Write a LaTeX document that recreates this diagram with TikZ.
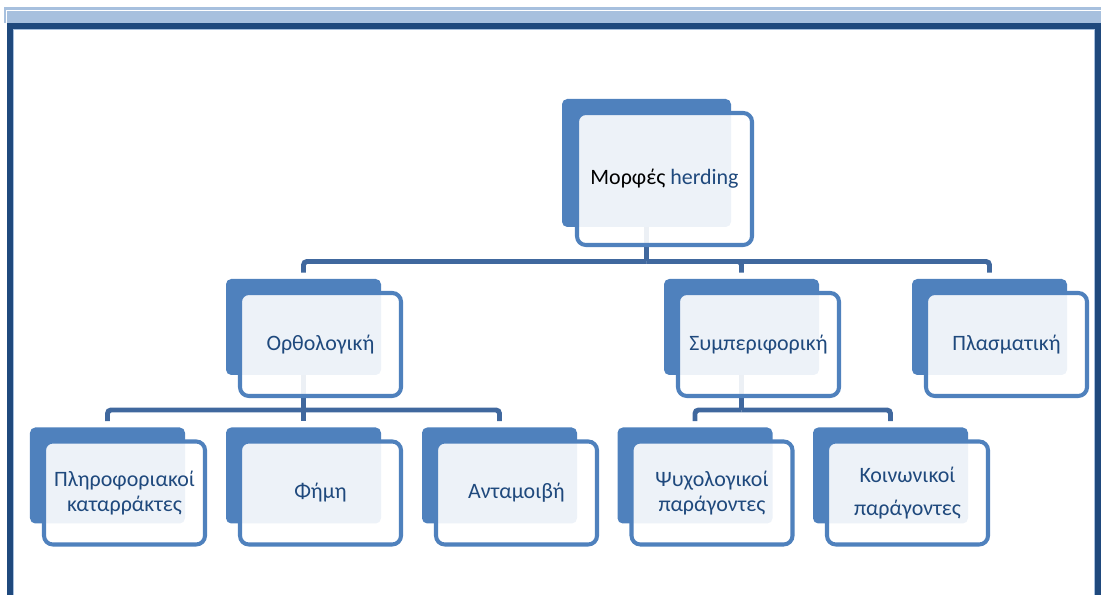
\documentclass[tikz,border=0pt]{standalone}
\usepackage{fontspec}
\setmainfont{Carlito}
\usetikzlibrary{positioning}

\begin{document}
\begin{tikzpicture}[
    font=\fontsize{12.5}{14.5}\selectfont,
    % --- Styles ---
    back/.style={fill=boxBlue, rounded corners=3pt, minimum width=3.1cm, minimum height=1.92cm, inner sep=0pt},
    front/.style={draw=boxBlue, line width=2.3pt, fill=white, fill opacity=0.9, text opacity=1, rounded corners=5pt, minimum width=3.22cm, minimum height=2.06cm, align=center, text=txtBlue, inner sep=2pt, xshift=0.34cm, yshift=-0.35cm},
    conn/.style={draw=lineBlue, line width=2.8pt, rounded corners=2pt},
    gap/.style={shorten >=0.12cm}
]

    % --- Colors ---
    \definecolor{boxBlue}{RGB}{79,129,189}   % box fill / border
    \definecolor{lineBlue}{RGB}{64,104,158}  % connectors
    \definecolor{txtBlue}{RGB}{31,73,125}    % labels
    \definecolor{frameDark}{RGB}{31,73,125}  % page border
    \definecolor{frameLight}{RGB}{167,192,222}

    \useasboundingbox (0,0) rectangle (22.02,11.9);

    % ==========================
    % 1. PAGE FRAME
    % ==========================
    \fill[frameLight] (0.08,11.44) rectangle (22.02,11.76);
    \draw[white, line width=0.5pt] (0.12,11.44) -- (0.12,11.7) -- (22.02,11.7);
    \fill[frameDark] (0.14,11.32) rectangle (22.02,11.44);
    \fill[frameDark] (0.14,0) rectangle (0.26,11.44);
    \fill[frameDark] (21.9,0) rectangle (22.02,11.44);
    \draw[frameLight, line width=0.4pt] (0.27,0) -- (0.27,11.31) -- (21.89,11.31) -- (21.89,0);

    % ==========================
    % 2. BACK PLATES
    % ==========================
    \node[back, minimum width=3.38cm, minimum height=2.56cm] (root_b) at (12.93, 8.64) {};

    \node[back] (orth_b)  at (6.07, 5.36) {};
    \node[back] (symp_b)  at (14.83, 5.36) {};
    \node[back] (plasm_b) at (19.79, 5.36) {};

    \node[back] (pliro_b) at (2.15, 2.39) {};
    \node[back] (fimi_b)  at (6.07, 2.39) {};
    \node[back] (antam_b) at (9.99, 2.39) {};
    \node[back] (psych_b) at (13.9, 2.39) {};
    \node[back] (koin_b)  at (17.81, 2.39) {};

    % ==========================
    % 3. CONNECTORS
    % ==========================
    \coordinate (bar1) at (12.93, 6.67);
    \coordinate (bar2) at (6.07, 3.7);
    \coordinate (bar3) at (14.83, 3.7);

    \draw[conn] (root_b.south) -- (bar1);
    \draw[conn, gap] (bar1) -| (orth_b.north);
    \draw[conn, gap] (bar1) -| (symp_b.north);
    \draw[conn, gap] (bar1) -| (plasm_b.north);

    \draw[conn] (orth_b.south) -- (bar2);
    \draw[conn, gap] (bar2) -| (pliro_b.north);
    \draw[conn, gap] (bar2) -- (fimi_b.north);
    \draw[conn, gap] (bar2) -| (antam_b.north);

    \draw[conn] (symp_b.south) -- (bar3);
    \draw[conn, gap] (bar3) -| (psych_b.north);
    \draw[conn, gap] (bar3) -| (koin_b.north);

    % ==========================
    % 4. FRONT CARDS
    % ==========================
    \node[front, text=black, minimum width=3.5cm, minimum height=2.64cm, xshift=0.02cm, yshift=0.03cm] (root) at (root_b) {Μορφές \textcolor{txtBlue}{herding}};

    \node[front] (orth)  at (orth_b)  {Ορθολογική};
    \node[front] (symp)  at (symp_b)  {Συμπεριφορική};
    \node[front] (plasm) at (plasm_b) {Πλασματική};

    \node[front] (pliro) at (pliro_b) {Πληροφοριακοί\\καταρράκτες};
    \node[front] (fimi)  at (fimi_b)  {Φήμη};
    \node[front] (antam) at (antam_b) {Ανταμοιβή};
    \node[front] (psych) at (psych_b) {Ψυχολογικοί\\παράγοντες};
    \node[front] (koin)  at (koin_b)  {Κοινωνικοί\\[4pt]παράγοντες};

\end{tikzpicture}
\end{document}
